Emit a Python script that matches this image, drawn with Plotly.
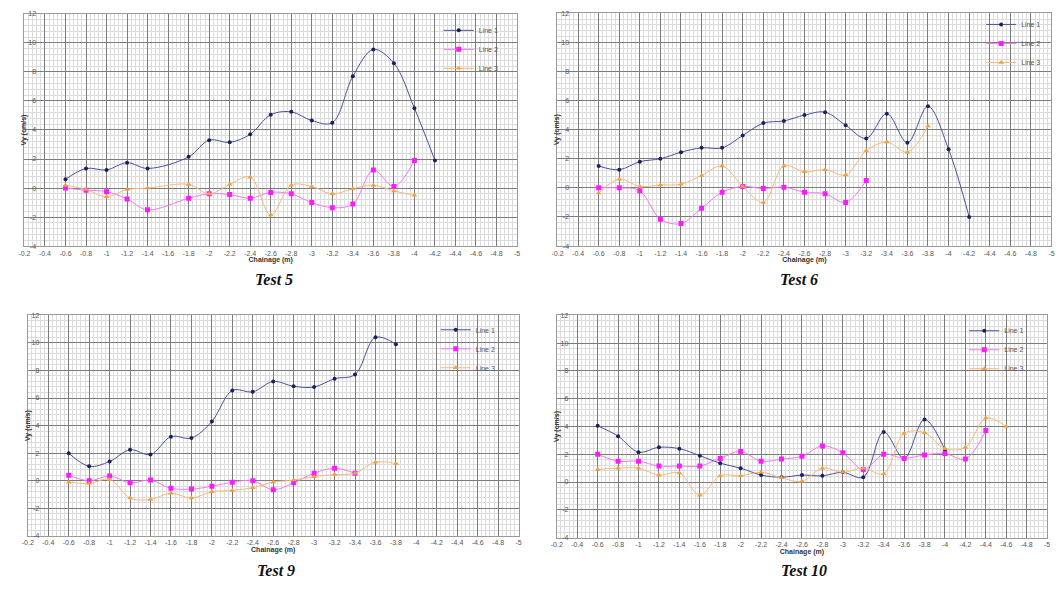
import plotly.graph_objects as go

# ---------------- tick labels ----------------
X_TICK_VALUES = [-0.2, -0.4, -0.6, -0.8, -1.0, -1.2, -1.4, -1.6, -1.8, -2.0, -2.2, -2.4, -2.6,
                 -2.8, -3.0, -3.2, -3.4, -3.6, -3.8, -4.0, -4.2, -4.4, -4.6, -4.8, -5.0]
X_TICK_TEXT = ["-0.2", "-0.4", "-0.6", "-0.8", "-1", "-1.2", "-1.4", "-1.6", "-1.8", "-2", "-2.2",
               "-2.4", "-2.6", "-2.8", "-3", "-3.2", "-3.4", "-3.6", "-3.8", "-4", "-4.2", "-4.4",
               "-4.6", "-4.8", "-5"]
Y_TICK_VALUES = [-4, -2, 0, 2, 4, 6, 8, 10, 12]
Y_TICK_TEXT = ["-4", "-2", "0", "2", "4", "6", "8", "10", "12"]

SERIES_NAMES = ["Line 1", "Line 2", "Line 3"]
PANEL_TITLES = ["Test 5", "Test 6", "Test 9", "Test 10"]

# ---------------- Test 5 ----------------
t5_line1_x = [-0.6, -0.8, -1.0, -1.2, -1.4, -1.8, -2.0, -2.2, -2.4, -2.6, -2.8, -3.0, -3.2, -3.4, -3.6, -3.8, -4.0, -4.2]
t5_line1_y = [0.6, 1.35, 1.25, 1.75, 1.35, 2.15, 3.3, 3.15, 3.7, 5.05, 5.25, 4.65, 4.5, 7.7, 9.55, 8.6, 5.5, 1.9]
t5_line2_x = [-0.6, -0.8, -1.0, -1.2, -1.4, -1.8, -2.0, -2.2, -2.4, -2.6, -2.8, -3.0, -3.2, -3.4, -3.6, -3.8, -4.0]
t5_line2_y = [0.0, -0.15, -0.25, -0.75, -1.5, -0.7, -0.4, -0.45, -0.7, -0.3, -0.4, -1.0, -1.35, -1.1, 1.25, 0.1, 1.9]
t5_line3_x = [-0.6, -0.8, -1.0, -1.2, -1.4, -1.8, -2.0, -2.2, -2.4, -2.6, -2.8, -3.0, -3.2, -3.4, -3.6, -3.8, -4.0]
t5_line3_y = [0.2, -0.1, -0.6, -0.1, 0.0, 0.25, -0.4, 0.25, 0.75, -1.85, 0.2, 0.1, -0.4, -0.05, 0.2, -0.2, -0.5]

# ---------------- Test 6 ----------------
t6_line1_x = [-0.6, -0.8, -1.0, -1.2, -1.4, -1.6, -1.8, -2.0, -2.2, -2.4, -2.6, -2.8, -3.0, -3.2, -3.4, -3.6, -3.8, -4.0, -4.2]
t6_line1_y = [1.5, 1.25, 1.8, 2.0, 2.45, 2.75, 2.75, 3.6, 4.45, 4.6, 5.0, 5.2, 4.3, 3.4, 5.1, 3.1, 5.6, 2.65, -2.0]
t6_line2_x = [-0.6, -0.8, -1.0, -1.2, -1.4, -1.6, -1.8, -2.0, -2.2, -2.4, -2.6, -2.8, -3.0, -3.2]
t6_line2_y = [0.0, 0.0, -0.2, -2.15, -2.45, -1.4, -0.3, 0.1, -0.05, 0.05, -0.3, -0.4, -1.0, 0.5]
t6_line3_x = [-0.6, -0.8, -1.0, -1.2, -1.4, -1.6, -1.8, -2.0, -2.2, -2.4, -2.6, -2.8, -3.0, -3.2, -3.4, -3.6, -3.8]
t6_line3_y = [-0.35, 0.6, 0.1, 0.2, 0.25, 0.85, 1.5, 0.1, -1.0, 1.5, 1.1, 1.25, 0.9, 2.55, 3.15, 2.45, 4.25]

# ---------------- Test 9 ----------------
t9_line1_x = [-0.6, -0.8, -1.0, -1.2, -1.4, -1.6, -1.8, -2.0, -2.2, -2.4, -2.6, -2.8, -3.0, -3.2, -3.4, -3.6, -3.8]
t9_line1_y = [2.0, 1.05, 1.4, 2.25, 1.9, 3.2, 3.1, 4.3, 6.55, 6.45, 7.2, 6.85, 6.8, 7.4, 7.7, 10.4, 9.9]
t9_line2_x = [-0.6, -0.8, -1.0, -1.2, -1.4, -1.6, -1.8, -2.0, -2.2, -2.4, -2.6, -2.8, -3.0, -3.2, -3.4]
t9_line2_y = [0.4, 0.0, 0.35, -0.15, 0.05, -0.55, -0.6, -0.4, -0.1, 0.0, -0.65, -0.15, 0.55, 0.9, 0.55]
t9_line3_x = [-0.6, -0.8, -1.0, -1.2, -1.4, -1.6, -1.8, -2.0, -2.2, -2.4, -2.6, -2.8, -3.0, -3.2, -3.4, -3.6, -3.8]
t9_line3_y = [-0.1, -0.2, 0.1, -1.25, -1.35, -0.9, -1.25, -0.8, -0.7, -0.5, -0.1, 0.05, 0.3, 0.45, 0.55, 1.35, 1.25]

# ---------------- Test 10 ----------------
t10_line1_x = [-0.6, -0.8, -1.0, -1.2, -1.4, -1.6, -1.8, -2.0, -2.2, -2.4, -2.6, -2.8, -3.0, -3.2, -3.4, -3.6, -3.8, -4.0]
t10_line1_y = [4.05, 3.3, 2.15, 2.5, 2.4, 1.9, 1.35, 1.0, 0.5, 0.35, 0.5, 0.45, 0.7, 0.35, 3.6, 1.7, 4.5, 2.3]
t10_line2_x = [-0.6, -0.8, -1.0, -1.2, -1.4, -1.6, -1.8, -2.0, -2.2, -2.4, -2.6, -2.8, -3.0, -3.2, -3.4, -3.6, -3.8, -4.0, -4.2, -4.4]
t10_line2_y = [2.0, 1.5, 1.5, 1.15, 1.15, 1.15, 1.7, 2.2, 1.5, 1.65, 1.85, 2.6, 2.1, 0.9, 2.0, 1.7, 1.95, 2.05, 1.65, 3.7]
t10_line3_x = [-0.6, -0.8, -1.0, -1.2, -1.4, -1.6, -1.8, -2.0, -2.2, -2.4, -2.6, -2.8, -3.0, -3.2, -3.4, -3.6, -3.8, -4.0, -4.2, -4.4, -4.6]
t10_line3_y = [0.9, 1.0, 1.0, 0.5, 0.65, -0.95, 0.45, 0.45, 0.7, 0.3, 0.05, 1.0, 0.7, 1.0, 0.6, 3.5, 3.55, 2.4, 2.5, 4.6, 4.0]

panels = [
    [(t5_line1_x, t5_line1_y), (t5_line2_x, t5_line2_y), (t5_line3_x, t5_line3_y)],
    [(t6_line1_x, t6_line1_y), (t6_line2_x, t6_line2_y), (t6_line3_x, t6_line3_y)],
    [(t9_line1_x, t9_line1_y), (t9_line2_x, t9_line2_y), (t9_line3_x, t9_line3_y)],
    [(t10_line1_x, t10_line1_y), (t10_line2_x, t10_line2_y), (t10_line3_x, t10_line3_y)],
]

W, H = 1064, 592
# pixel boxes of each plot area: (left, right, top, bottom)
boxes = [(18.6, 515.4, 10, 245), (556.2, 1054.4, 9.3, 245), (22, 517, 315, 538.3), (555.5, 1050, 315, 540)]
legend_pos = [(502, 12), (1049, 6), (499, 315), (1032, 316)]
title_pos = [(270, 279), (800, 279), (272, 573), (805, 573)]

line_colors = ["#4b4f9c", "#f07af0", "#f5b97a"]
marker_colors = ["#1b1f5c", "#ff1aff", "#f0a040"]
marker_symbols = ["circle", "square", "triangle-up"]
marker_sizes = [4, 5, 5]

fig = go.Figure()

for p, series in enumerate(panels):
    ax = "" if p == 0 else str(p + 1)
    lg = "legend" if p == 0 else "legend" + str(p + 1)
    for s, (xs, ys) in enumerate(series):
        fig.add_trace(go.Scatter(
            x=xs, y=ys, name=SERIES_NAMES[s], mode="lines+markers",
            xaxis="x" + ax, yaxis="y" + ax, legend=lg,
            line=dict(color=line_colors[s], width=1, shape="spline", smoothing=1.0),
            marker=dict(color=marker_colors[s], symbol=marker_symbols[s], size=marker_sizes[s]),
        ))
    l, r, t, b = boxes[p]
    fig.update_layout(**{
        "xaxis" + ax: dict(
            domain=[l / W, r / W], anchor="y" + ax, range=[-0.2, -5.0],
            tickmode="array", tickvals=X_TICK_VALUES, ticktext=X_TICK_TEXT,
            showgrid=True, gridcolor="#7c7c7c", gridwidth=1, zeroline=False,
            minor=dict(tickmode="linear", tick0=0, dtick=0.04, showgrid=True, gridcolor="#dcdcdc", gridwidth=1),
            showline=True, linecolor="#9a9a9a", mirror=True, ticks="",
            tickfont=dict(family="Liberation Sans", size=7, color="#555555"),
            title=dict(text="<b>Chainage (m)</b>", standoff=1,
                       font=dict(family="Liberation Sans", size=7, color="#333333")),
        ),
        "yaxis" + ax: dict(
            domain=[1 - b / H, 1 - t / H], anchor="x" + ax, range=[-4, 12],
            tickmode="array", tickvals=Y_TICK_VALUES, ticktext=Y_TICK_TEXT,
            showgrid=True, gridcolor="#7c7c7c", gridwidth=1, zeroline=False,
            minor=dict(tickmode="linear", tick0=0, dtick=0.4, showgrid=True, gridcolor="#dcdcdc", gridwidth=1),
            showline=True, linecolor="#9a9a9a", mirror=True, ticks="",
            ticklabelstandoff=-14,
            tickfont=dict(family="Liberation Sans", size=7, color="#555555"),
            title=dict(text="<b>Vy (cm/s)</b>", standoff=0,
                       font=dict(family="Liberation Sans", size=7, color="#333333")),
        ),
        lg: dict(
            x=legend_pos[p][0] / W, y=1 - legend_pos[p][1] / H, xanchor="right", yanchor="top",
            bgcolor="rgba(255,255,255,0)", borderwidth=0,
            font=dict(family="Liberation Sans", size=7, color="#555555"),
            itemwidth=30, tracegroupgap=0,
        ),
    })
    fig.add_annotation(
        text="<b><i>" + PANEL_TITLES[p] + "</i></b>", xref="paper", yref="paper",
        x=title_pos[p][0] / W, y=1 - title_pos[p][1] / H, xanchor="center", yanchor="middle",
        showarrow=False, font=dict(family="Liberation Serif", size=16, color="#111111"),
    )

fig.update_layout(
    width=W, height=H, margin=dict(l=0, r=0, t=0, b=0),
    paper_bgcolor="white", plot_bgcolor="white", showlegend=True,
)

fig.write_html("out.html", config={"displayModeBar": False},
               post_script="document.body.style.margin='0px';document.body.style.padding='0px';")
